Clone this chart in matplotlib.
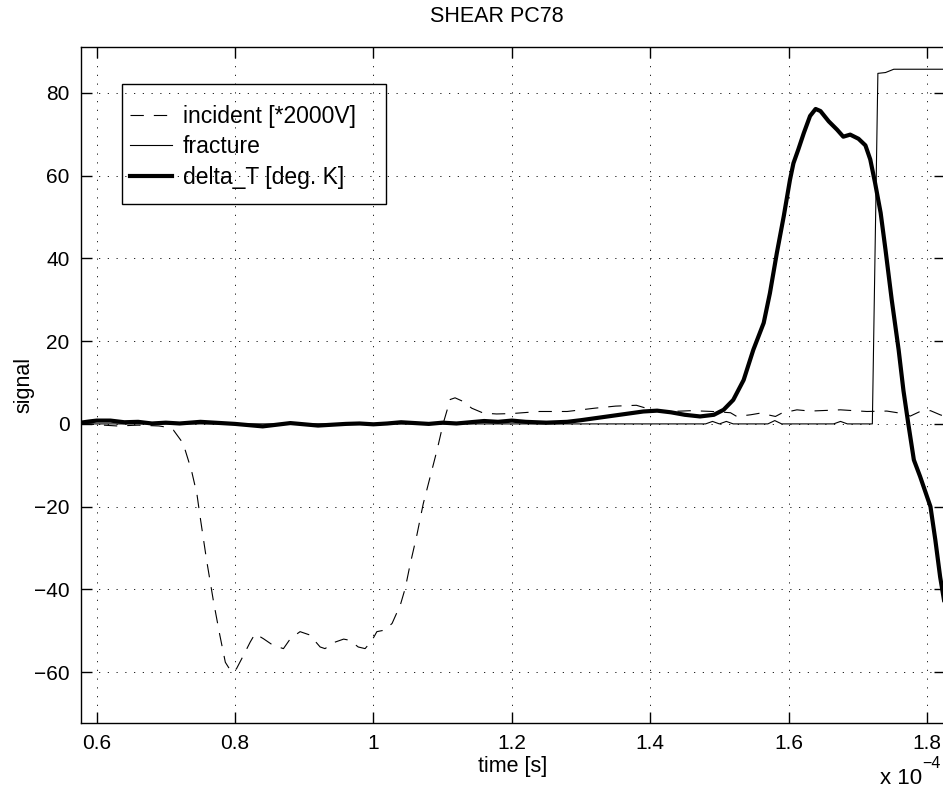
import matplotlib
matplotlib.use("Agg")
import matplotlib.pyplot as plt
from matplotlib.patches import Rectangle

plt.rcParams['font.family'] = ['Liberation Sans', 'DejaVu Sans']

# time in units of 1e-4 s
t_inc = [0.577, 0.60, 0.63, 0.66, 0.69, 0.696, 0.711, 0.725, 0.737, 0.745, 0.749, 0.759, 0.769,
         0.778, 0.786, 0.795, 0.802, 0.812, 0.822, 0.829, 0.841, 0.855, 0.870, 0.880, 0.894, 0.908,
         0.923, 0.930, 0.945, 0.957, 0.966, 0.978, 0.988, 0.998, 1.005, 1.017, 1.027, 1.039, 1.046,
         1.053, 1.063, 1.072, 1.082, 1.092, 1.101, 1.111, 1.118, 1.130, 1.142, 1.159, 1.178, 1.20,
         1.24, 1.28, 1.32, 1.35, 1.38, 1.40, 1.43, 1.46, 1.49, 1.516, 1.525, 1.545, 1.559, 1.581,
         1.590, 1.612, 1.631, 1.675, 1.713, 1.742, 1.761, 1.776, 1.790, 1.805, 1.819, 1.826]
incident = [0.2, -0.2, -0.5, -0.3, -0.5, -0.65, -1.5, -4.7, -11.2, -17, -21.8, -33, -43,
            -51, -57.6, -60, -59.2, -56, -52.7, -50.7, -51.9, -53.5, -54.3, -51.9, -50.2, -51,
            -53.9, -54.3, -52.7, -52, -52.3, -53.9, -54.3, -52.3, -50.2, -49.8, -48.2, -43.7, -39.7,
            -34, -26.7, -19.3, -12.8, -6.3, 0.2, 5.9, 6.3, 5.4, 3.8, 2.6, 2.4, 2.5,
            3.0, 3.0, 3.8, 4.3, 4.5, 3.5, 3.0, 3.2, 3.0, 2.7, 1.8, 2.2, 2.6, 1.8,
            2.6, 3.4, 3.1, 3.4, 3.0, 3.1, 2.6, 1.9, 3.0, 3.2, 2.2, 1.8]

t_frac = [0.577, 1.48, 1.49, 1.50, 1.51, 1.52, 1.57, 1.58, 1.59, 1.665, 1.675, 1.685,
          1.721, 1.729, 1.740, 1.752, 1.826]
fracture = [0, 0, 0.6, 0, 0.6, 0, 0, 0.8, 0, 0, 0.6, 0,
            0, 84.7, 84.9, 85.7, 85.7]

t_dT = [0.577, 0.59, 0.60, 0.62, 0.64, 0.66, 0.68, 0.70, 0.72, 0.75, 0.78, 0.80, 0.82, 0.84,
        0.86, 0.88, 0.90, 0.92, 0.94, 0.96, 0.98, 1.00, 1.02, 1.04, 1.06, 1.08, 1.10, 1.12,
        1.14, 1.16, 1.18, 1.20, 1.22, 1.25, 1.28, 1.30, 1.33, 1.36, 1.39, 1.41, 1.43, 1.45,
        1.472, 1.492, 1.506, 1.520, 1.535, 1.549, 1.564, 1.573, 1.583, 1.593, 1.602, 1.607,
        1.614, 1.622, 1.631, 1.639, 1.646, 1.658, 1.670, 1.679, 1.689, 1.701, 1.711, 1.718,
        1.725, 1.733, 1.740, 1.749, 1.759, 1.766, 1.773, 1.781, 1.790, 1.805, 1.812, 1.819, 1.826]
delta_T = [0.3, 0.6, 0.8, 0.8, 0.4, 0.5, 0.1, 0.3, 0.1, 0.5, 0.2, 0.0, -0.3, -0.6,
           -0.2, 0.2, -0.1, -0.4, -0.2, 0.0, 0.1, -0.1, 0.1, 0.4, 0.2, 0.0, 0.3, 0.1,
           0.4, 0.7, 0.5, 0.8, 0.5, 0.3, 0.5, 0.9, 1.6, 2.3, 3.0, 3.2, 2.8, 2.2,
           1.8, 2.2, 3.4, 5.8, 10.6, 17.9, 24.4, 31.6, 41.3, 50.2, 59, 63,
           66.3, 70.3, 74.4, 76.1, 75.6, 73.1, 71.1, 69.4, 69.9, 68.9, 67.3, 63.9,
           58.2, 51, 42.1, 30, 17.9, 8, 0, -8.7, -12.7, -20, -28, -37, -44]

xticks = [0.6, 0.8, 1.0, 1.2, 1.4, 1.6, 1.8]
xticklabels = ['0.6', '0.8', '1', '1.2', '1.4', '1.6', '1.8']
yticks = [-60, -40, -20, 0, 20, 40, 60, 80]

W, H = 943, 789
fig = plt.figure(figsize=(W / 100, H / 100), dpi=100)
ax = fig.add_axes([80.7 / W, 1 - 722.7 / H, (945 - 80.7) / W, (722.7 - 47.3) / H])

ax.plot(t_inc, incident, color='black', lw=0.8, linestyle=(0, (12, 9)), label='incident [*2000V]')
ax.plot(t_frac, fracture, color='black', lw=0.8, label='fracture')
ax.plot(t_dT, delta_T, color='black', lw=3.0, label='delta_T [deg. K]')

ax.set_xlim(0.577, 1.826)
ax.set_ylim(-72.2, 91.0)
ax.set_xticks(xticks)
ax.set_xticklabels(xticklabels)
ax.set_yticks(yticks)
ax.tick_params(direction='in', length=8, width=1, labelsize=15, top=True, right=True, pad=8)
ax.grid(True, color='black', lw=0.6, linestyle=(0, (1.5, 9)))
for s in ['left', 'bottom', 'top']:
    ax.spines[s].set_linewidth(1.0)
ax.spines['right'].set_visible(False)

fig.text(497 / W, 1 - 16 / H, 'SHEAR PC78', fontsize=15.5, ha='center', va='center')
ax.set_xlabel('time [s]', fontsize=15.5, labelpad=2)
ax.set_ylabel('signal', fontsize=15.5, labelpad=0)

# legend entries without frame, box drawn separately (transparent, like the original)
leg = ax.legend(loc='upper left', bbox_to_anchor=(130 / W, 1 - 105 / H),
                bbox_transform=fig.transFigure, borderaxespad=0, borderpad=0,
                fontsize=16.5, frameon=False, handlelength=1.85, handletextpad=0.45,
                labelspacing=0.32)
fig.patches.append(Rectangle((121.7 / W, 1 - 204.3 / H), 264.3 / W, 120.3 / H,
                             transform=fig.transFigure, fill=False, edgecolor='black',
                             lw=1.0, zorder=5))

fig.text(880 / W, 1 - 778 / H, 'x 10', fontsize=16, va='center', ha='left')
fig.text(922 / W, 1 - 763 / H, '\u22124', fontsize=11.5, va='center', ha='left')

fig.savefig('out.png', dpi=100)
